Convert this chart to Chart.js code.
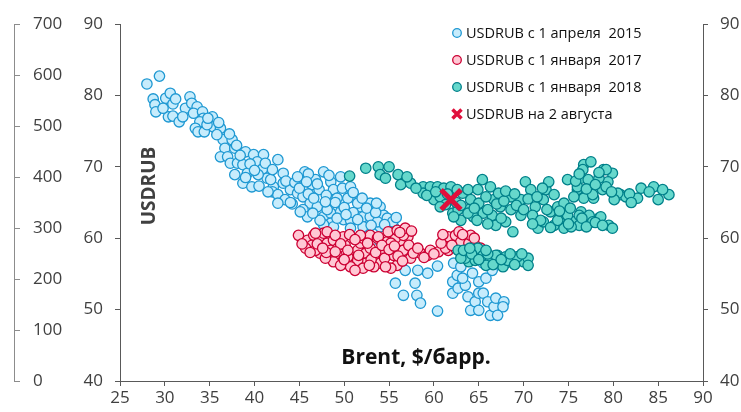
<!DOCTYPE html>
<html>
<head>
<meta charset="utf-8">
<script src="https://cdn.jsdelivr.net/npm/chart.js@4"></script>
<style>
  html, body { margin: 0; padding: 0; background: #fff; }
  #wrap { width: 741px; height: 412px; position: relative; }
</style>
</head>
<body>
<div id="wrap"><canvas id="brent-chart" width="741" height="412"></canvas></div>
<script>
// legend labels
const seriesNames = ['USDRUB с 1 апреля  2015', 'USDRUB с 1 января  2017', 'USDRUB с 1 января  2018', 'USDRUB на 2 августа'];

// [Brent $/bbl, USDRUB]
const usdrub2015 = [
  [28.0,81.6],[29.4,82.7],[28.7,79.5],[28.9,78.7],[29.0,77.7],[30.1,79.6],[30.6,80.3],[30.9,78.8],[30.4,77.0],[30.9,77.1],
  [31.6,76.3],[32.8,79.8],[32.3,78.2],[33.0,78.9],[33.6,78.4],[33.2,77.5],[34.2,77.7],[34.3,76.8],[33.9,76.3],[35.3,77.0],
  [35.4,75.6],[36.2,75.4],[33.4,75.4],[33.7,74.9],[34.4,74.9],[34.7,75.9],[36.5,73.8],[37.5,73.8],[36.7,72.6],[37.8,72.6],
  [36.2,71.4],[37.0,71.4],[39.0,72.1],[37.3,70.5],[38.1,70.5],[39.9,71.7],[41.0,71.7],[40.3,70.7],[38.7,70.3],[40.9,69.7],
  [42.6,71.0],[39.2,69.1],[37.8,68.9],[38.7,67.7],[39.7,67.2],[41.4,68.4],[40.4,68.9],[43.2,69.1],[45.6,69.3],[47.7,69.3],
  [42.1,67.2],[43.2,67.7],[42.0,66.5],[42.6,66.1],[44.0,66.8],[44.8,66.3],[43.4,65.4],[45.4,65.8],[46.4,67.5],[46.8,68.2],
  [48.5,67.9],[46.2,64.9],[47.0,64.4],[48.5,65.4],[48.8,66.8],[49.8,67.0],[50.7,67.2],[50.7,65.8],[45.4,64.0],[47.7,63.0],
  [48.5,63.5],[49.6,63.7],[49.9,62.6],[48.5,62.1],[49.6,64.9],[51.8,64.4],[52.9,64.9],[52.1,63.0],[54.0,64.4],[54.4,63.2],
  [55.2,62.5],[53.3,62.5],[48.8,61.6],[47.7,61.9],[52.1,61.6],[54.0,61.6],[55.5,61.6],[41.8,68.2],[49.2,65.6],[50.4,65.6],
  [51.5,64.9],[50.7,62.5],[52.9,63.0],[54.8,62.8],[53.7,62.3],[55.4,62.3],[50.7,61.4],[47.3,62.5],[45.9,63.0],[45.1,63.7],
  [49.6,68.6],[47.2,66.8],[48.1,64.0],[55.0,59.3],[53.9,59.7],[55.7,53.7],[56.6,52.0],[57.9,53.7],[58.1,52.0],[58.5,50.9],
  [59.3,55.1],[60.4,56.1],[60.4,49.8],[58.2,55.5],[56.8,55.5],[62.2,56.5],[62.1,53.9],[62.1,52.3],[62.6,54.8],[62.7,53.0],
  [63.5,53.4],[63.8,51.8],[64.1,49.9],[64.6,51.1],[65.0,53.9],[65.0,52.3],[65.8,54.4],[65.5,52.3],[66.0,51.1],[65.0,49.9],
  [66.3,49.2],[66.7,50.4],[66.9,51.6],[67.8,51.1],[67.7,50.4],[67.1,49.2],[63.0,56.0],[63.2,54.4],[64.3,55.1],[63.8,57.0],
  [65.5,56.5],[66.5,55.5],
  [29.8,78.2],[31.2,79.5],[32.0,77.0],[34.8,76.8],[35.8,74.5],[36.0,76.2],[37.2,74.6],[38.0,73.0],[38.4,71.6],[39.5,70.4],
  [40.0,69.5],[41.2,70.5],[42.0,69.6],[43.5,68.0],[44.5,67.8],[45.0,67.0],[46.0,66.2],[47.0,67.6],[48.0,66.0],[49.0,65.0],
  [50.0,64.3],[51.0,63.6],[52.5,64.2],[53.5,63.6],[51.5,62.6],[53.0,61.8],[54.5,61.9],[46.5,63.5],[44.2,64.8],[49.2,62.8],
  [50.2,63.3],[55.8,62.9],[41.5,66.5],[40.5,67.3],[39.0,68.5],[44.8,68.6],[46.0,69.0],[48.3,68.8],[42.6,64.9],[51.0,66.4],
  [44.0,65.0],[47.9,65.1],[46.6,65.6],[52.0,65.6],[53.6,64.9],[45.8,67.9]
];

const usdrub2017 = [
  [44.9,60.4],[45.9,59.7],[46.6,60.4],[46.4,59.0],[47.3,60.0],[47.7,60.7],[48.1,59.3],[48.8,59.7],[48.5,58.3],[49.3,58.6],
  [49.2,57.6],[50.1,59.0],[49.9,56.9],[50.7,57.9],[51.0,56.5],[51.5,58.3],[51.8,59.3],[52.1,60.0],[52.4,57.9],[52.4,56.5],
  [52.9,60.4],[52.9,58.6],[53.3,57.4],[53.7,60.0],[54.0,56.5],[54.4,58.3],[54.8,59.5],[55.2,60.7],[55.5,57.6],[55.9,56.2],
  [56.3,59.7],[56.6,58.3],[56.8,61.1],[57.1,60.2],[57.4,57.2],[57.9,58.1],[58.5,57.9],[59.3,57.6],[60.5,58.1],[61.5,59.7],
  [62.2,60.2],[61.6,58.3],[62.4,58.6],[51.5,56.9],[50.4,57.4],[48.8,56.7],[47.3,57.9],[45.7,58.6],[52.1,55.8],[55.2,55.8],
  [53.3,56.0],[50.7,56.0],[55.7,60.0],[56.6,60.4],[57.2,59.0],[57.7,57.9],[61.3,58.6],[61.6,60.2],[62.4,60.4],[63.0,59.5],
  [63.9,59.3],[64.6,59.0],[65.2,58.6],[46.8,60.7],[48.1,60.9],[49.9,60.2],[51.8,60.4],[53.8,60.2],[54.9,60.9],[55.9,61.1],
  [56.8,61.4],[55.2,59.3],[49.6,56.2],[47.9,57.2],[46.8,58.3],[51.2,55.5],[64.1,60.4],[63.5,58.3],[59.6,58.3],
  [45.3,59.2],[46.2,58.0],[47.0,59.2],[48.0,58.0],[49.0,60.4],[49.6,59.2],[50.4,58.3],[50.6,60.5],[51.2,59.8],[51.6,57.6],
  [52.6,59.3],[53.0,57.0],[53.5,58.0],[54.2,59.0],[54.5,57.2],[55.0,58.4],[55.6,58.9],[56.0,57.5],[56.2,60.8],[57.5,61.0],
  [58.2,58.6],[58.9,57.3],[60.0,57.8],[60.8,59.3],[61.0,60.5],[62.8,60.9],[63.2,60.5],[64.5,60.0],[62.0,59.0],[49.0,58.1],
  [47.6,58.6],[50.0,57.0],[52.8,56.2],[54.6,56.0],[56.5,56.8]
];

const usdrub2018 = [
  [50.6,68.7],[52.4,69.8],[53.8,70.0],[55.0,70.0],[54.0,68.9],[54.6,68.4],[56.0,68.9],[56.3,67.5],[57.4,67.7],[58.8,67.2],
  [58.8,66.3],[59.6,67.2],[60.4,67.2],[60.0,65.4],[61.1,67.0],[61.9,67.2],[60.7,65.8],[61.9,65.8],[61.3,64.7],[62.1,63.5],
  [62.7,64.0],[63.2,66.3],[63.8,66.8],[64.1,65.4],[64.9,66.8],[65.0,64.9],[65.4,68.2],[65.5,63.5],[66.3,67.2],[66.7,65.4],
  [67.2,66.3],[67.4,64.4],[68.6,65.8],[68.6,64.0],[69.7,65.4],[70.2,67.9],[68.8,60.9],[63.9,64.0],[63.0,62.5],[64.4,63.0],
  [60.7,64.4],[62.2,63.0],[63.8,63.5],[66.5,63.2],[70.8,66.8],[71.3,64.4],[71.0,63.2],[71.6,61.4],[72.2,65.4],[72.5,66.8],
  [72.8,67.9],[72.2,62.3],[73.0,63.7],[73.4,61.8],[73.8,64.4],[74.1,62.8],[74.5,61.4],[74.9,68.2],[75.6,62.3],[76.0,66.8],
  [76.4,63.7],[76.7,65.6],[76.7,70.3],[77.5,70.7],[77.5,62.5],[77.8,65.6],[78.4,62.8],[78.9,69.6],[79.9,69.1],[79.4,67.9],
  [78.8,66.8],[79.5,61.8],[79.9,61.4],[80.8,66.1],[81.4,65.8],[83.1,67.0],[84.5,67.2],[85.0,65.4],[86.2,66.1],[76.4,68.4],
  [72.1,67.0],[73.4,66.1],[71.9,62.5],[74.5,64.9],[74.9,63.2],[76.2,63.2],[77.3,63.2],[78.6,63.0],[76.0,67.2],[75.6,65.8],
  [76.6,69.6],[77.2,68.2],[77.7,66.1],[78.4,68.4],[79.2,69.6],[79.2,67.2],[80.5,66.3],[80.1,65.4],[82.7,65.6],[77.7,62.3],
  [76.2,61.8],[75.3,61.6],[62.7,58.3],[63.9,56.7],[64.9,58.6],[64.6,56.9],[65.5,57.6],[66.3,56.9],[67.1,57.6],[68.0,57.4],
  [68.0,56.5],[68.9,56.9],[69.4,57.4],[70.0,56.7],[63.5,57.2],[66.9,57.6],[67.7,56.0],[68.2,56.9],[69.3,57.4],[70.5,57.2],
  [70.5,56.2],[65.8,56.2],[63.0,57.2],[63.3,58.3],[66.9,61.8],[68.0,62.3],[69.7,63.2],
  [57.0,68.6],[58.0,67.0],[59.2,66.0],[60.2,66.5],[61.5,66.2],[62.5,65.0],[63.0,64.6],[62.6,66.8],[64.5,64.2],[65.8,65.8],
  [66.0,64.0],[67.0,64.8],[67.8,65.2],[68.0,66.6],[69.0,66.2],[69.2,64.6],[70.5,65.5],[70.0,64.0],[71.5,65.8],[71.0,62.0],
  [72.6,64.0],[73.0,61.5],[73.8,62.5],[74.0,63.8],[75.0,62.0],[75.2,64.2],[76.5,62.8],[77.0,61.6],[78.0,62.2],[78.8,61.8],
  [75.8,68.0],[76.2,69.0],[77.0,66.9],[78.0,67.5],[78.4,69.2],[79.8,66.5],[81.8,66.2],[82.0,65.0],[84.0,66.5],[85.5,66.8],
  [67.5,62.8],[66.0,62.0],[64.8,62.5],
  [64.2,57.8],[65.0,57.0],[66.0,57.8],[66.6,56.3],[67.5,57.0],[68.5,57.8],[69.8,57.8],[69.0,56.3],[64.0,58.6],[65.8,58.3]
];

const usdrubAug2 = [[61.9, 65.4]];

// axis ranges
const xTicks = { min: 25, max: 90, step: 5 };
const yTicks = { min: 40, max: 90, step: 10 };
const outerTicks = { min: 0, max: 700, step: 100 };

const FONT = '"Open Sans", "Noto Sans", sans-serif';

function toPoints(arr) {
    return arr.map(p => ({ x: p[0], y: p[1] }));
}

// fixed axis widths, and no extra label padding above/below the vertical axes
function fixVertical(width) {
    return (scale) => {
        scale.width = width;
        scale.paddingTop = 0;
        scale.paddingBottom = 0;
    };
}

// legend + axis titles are drawn inside the plot, like in the picture
const overlayText = {
    id: 'overlayText',
    afterDraw(chart) {
        const ctx = chart.ctx;
        const area = chart.chartArea;
        ctx.save();

        // legend
        chart.data.datasets.forEach((ds, i) => {
            const mx = area.left + 337;
            const my = area.top + 9 + i * 27;
            ctx.fillStyle = ds.backgroundColor;
            ctx.strokeStyle = ds.borderColor;
            if (ds.pointStyle === 'crossRot') {
                ctx.lineWidth = 3.5;
                ctx.beginPath();
                ctx.moveTo(mx - 4.5, my - 4.5); ctx.lineTo(mx + 4.5, my + 4.5);
                ctx.moveTo(mx + 4.5, my - 4.5); ctx.lineTo(mx - 4.5, my + 4.5);
                ctx.stroke();
            } else {
                ctx.lineWidth = 1.3;
                ctx.beginPath();
                ctx.arc(mx, my, 4.3, 0, Math.PI * 2);
                ctx.fill();
                ctx.stroke();
            }
            ctx.fillStyle = '#111';
            ctx.font = '14.5px ' + FONT;
            ctx.textAlign = 'left';
            ctx.textBaseline = 'middle';
            ctx.fillText(ds.label, area.left + 346, my + 0.5);
        });

        // x title
        ctx.fillStyle = '#111';
        ctx.font = 'bold 21px ' + FONT;
        ctx.textAlign = 'center';
        ctx.textBaseline = 'middle';
        ctx.fillText('Brent, $/барр.', area.left + 296, area.bottom - 23);

        // y title
        ctx.translate(area.left + 30, area.top + 162);
        ctx.rotate(-Math.PI / 2);
        ctx.fillStyle = '#404040';
        ctx.font = 'bold 19px ' + FONT;
        ctx.fillText('USDRUB', 0, 0);
        ctx.restore();
    }
};

const tickFont = { family: FONT, size: 17 };

new Chart(document.getElementById('brent-chart'), {
    type: 'scatter',
    data: {
        datasets: [
            {
                label: seriesNames[0],
                data: toPoints(usdrub2015),
                yAxisID: 'y',
                backgroundColor: 'rgb(199,236,252)',
                borderColor: 'rgb(30,152,210)',
                borderWidth: 1.3,
                pointRadius: 5.2,
                order: 4
            },
            {
                label: seriesNames[1],
                data: toPoints(usdrub2017),
                yAxisID: 'y',
                backgroundColor: 'rgb(255,200,212)',
                borderColor: 'rgb(204,0,51)',
                borderWidth: 1.3,
                pointRadius: 5.2,
                order: 3
            },
            {
                label: seriesNames[2],
                data: toPoints(usdrub2018),
                yAxisID: 'y',
                backgroundColor: 'rgb(102,216,204)',
                borderColor: 'rgb(0,128,138)',
                borderWidth: 1.3,
                pointRadius: 5.2,
                order: 2
            },
            {
                label: seriesNames[3],
                data: toPoints(usdrubAug2),
                yAxisID: 'y',
                backgroundColor: 'rgb(224,16,60)',
                borderColor: 'rgb(224,16,60)',
                pointStyle: 'crossRot',
                borderWidth: 5,
                pointRadius: 14,
                order: 1
            }
        ]
    },
    options: {
        responsive: false,
        animation: false,
        devicePixelRatio: 1,
        layout: { padding: { top: 24, left: 0, right: 0, bottom: 0 } },
        plugins: {
            legend: { display: false },
            tooltip: { enabled: false }
        },
        scales: {
            x: {
                type: 'linear',
                position: 'bottom',
                min: xTicks.min,
                max: xTicks.max,
                ticks: { stepSize: xTicks.step, color: '#404040', font: tickFont, padding: 2, maxRotation: 0, autoSkip: false },
                grid: { drawOnChartArea: false, tickLength: 5, color: '#595959' },
                border: { color: '#595959', width: 1 },
                afterFit: (scale) => { scale.height = 31; }
            },
            outer: {
                type: 'linear',
                position: 'left',
                weight: 2,
                min: outerTicks.min,
                max: outerTicks.max,
                ticks: { stepSize: outerTicks.step, color: '#404040', font: tickFont, mirror: true, padding: 19, autoSkip: false },
                grid: { drawOnChartArea: false, tickLength: -6, color: '#8c8c8c' },
                border: { color: '#8c8c8c', width: 1 },
                afterFit: fixVertical(14)
            },
            y: {
                type: 'linear',
                position: 'left',
                weight: 1,
                min: yTicks.min,
                max: yTicks.max,
                ticks: { stepSize: yTicks.step, color: '#404040', font: tickFont, padding: 12, autoSkip: false },
                grid: { drawOnChartArea: false, tickLength: 5, color: '#595959' },
                border: { color: '#595959', width: 1 },
                afterFit: fixVertical(106)
            },
            yRight: {
                type: 'linear',
                position: 'right',
                min: yTicks.min,
                max: yTicks.max,
                ticks: { stepSize: yTicks.step, color: '#404040', font: tickFont, padding: 12, autoSkip: false },
                grid: { drawOnChartArea: false, tickLength: 5, color: '#595959' },
                border: { color: '#595959', width: 1 },
                afterFit: fixVertical(38)
            }
        }
    },
    plugins: [overlayText]
});
</script>
</body>
</html>
